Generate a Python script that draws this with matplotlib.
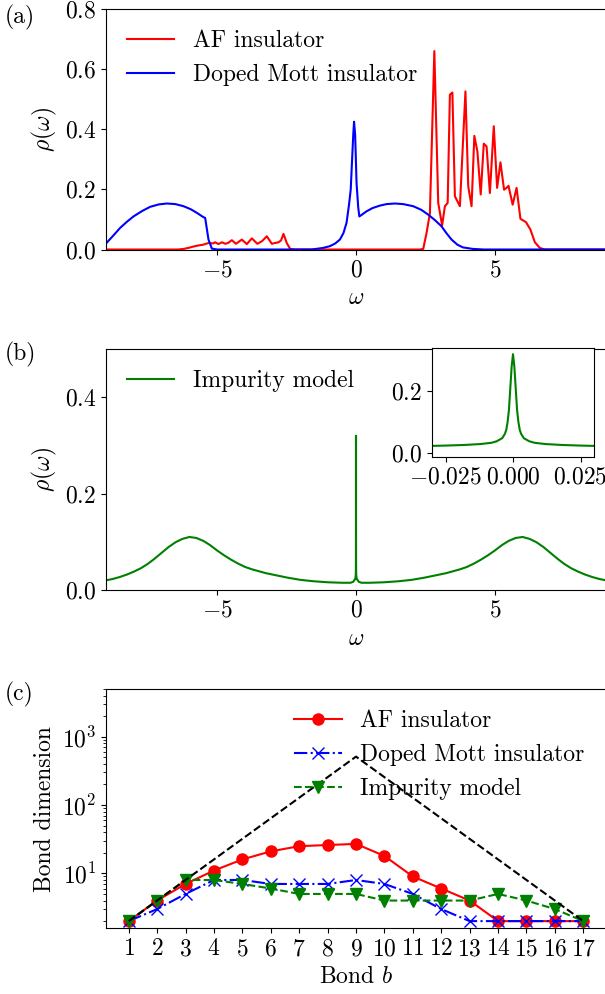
import numpy as np
import matplotlib
matplotlib.use("Agg")
import matplotlib.pyplot as plt

plt.rcParams["font.family"] = "serif"
plt.rcParams["font.serif"] = ["cmr10"]
plt.rcParams["mathtext.fontset"] = "cm"
plt.rcParams["axes.formatter.use_mathtext"] = True
plt.rcParams["font.size"] = 17

# (a) spectral functions, (omega, rho)
af_pts = [(-9.0, 0.0), (-6.4, 0.0), (-6.2, 0.002), (-6.0, 0.006), (-5.85, 0.01), (-5.7, 0.013),
          (-5.5, 0.016), (-5.3, 0.022), (-5.15, 0.02), (-5.07, 0.024), (-4.95, 0.018), (-4.83, 0.024),
          (-4.7, 0.019), (-4.6, 0.022), (-4.47, 0.031), (-4.32, 0.019), (-4.11, 0.033), (-3.93, 0.018),
          (-3.75, 0.037), (-3.55, 0.019), (-3.38, 0.028), (-3.21, 0.044), (-3.03, 0.019), (-2.9, 0.022),
          (-2.79, 0.024), (-2.7, 0.03), (-2.61, 0.052), (-2.49, 0.021), (-2.37, 0.002), (-2.2, 0.0),
          (2.3, 0.0), (2.42, 0.002), (2.54, 0.055), (2.66, 0.12), (2.82, 0.66), (2.96, 0.155),
          (3.10, 0.08), (3.20, 0.144), (3.30, 0.155), (3.38, 0.515), (3.47, 0.522), (3.56, 0.177),
          (3.74, 0.144), (3.94, 0.526), (4.04, 0.21), (4.16, 0.144), (4.26, 0.378), (4.37, 0.326),
          (4.49, 0.183), (4.60, 0.352), (4.70, 0.343), (4.82, 0.188), (4.96, 0.41), (5.08, 0.205),
          (5.20, 0.29), (5.33, 0.199), (5.42, 0.205), (5.49, 0.212), (5.64, 0.149), (5.78, 0.205),
          (5.92, 0.102), (6.12, 0.091), (6.28, 0.066), (6.44, 0.024), (6.62, 0.005), (6.8, 0.0),
          (9.0, 0.0)]

mott_pts = [(-9.0, 0.02), (-8.75, 0.045), (-8.49, 0.072), (-8.25, 0.092), (-8.01, 0.11), (-7.7, 0.128),
            (-7.41, 0.142), (-7.1, 0.15), (-6.81, 0.153), (-6.5, 0.151), (-6.21, 0.144), (-5.95, 0.134),
            (-5.73, 0.122), (-5.5, 0.108), (-5.43, 0.105), (-5.31, 0.033), (-5.19, 0.003), (-5.0, 0.0),
            (-1.6, 0.0), (-1.2, 0.005), (-0.94, 0.011), (-0.75, 0.02), (-0.58, 0.033), (-0.45, 0.055),
            (-0.34, 0.089), (-0.25, 0.15), (-0.19, 0.2), (-0.14, 0.3), (-0.1, 0.38), (-0.07, 0.425),
            (-0.03, 0.38), (0.02, 0.22), (0.08, 0.14), (0.12, 0.11), (0.2, 0.115), (0.38, 0.127),
            (0.6, 0.138), (0.86, 0.146), (1.1, 0.151), (1.4, 0.153), (1.7, 0.151), (2.06, 0.144),
            (2.35, 0.132), (2.6, 0.116), (2.85, 0.097), (3.08, 0.077), (3.25, 0.055), (3.44, 0.033),
            (3.65, 0.016), (3.85, 0.007), (4.2, 0.002), (4.6, 0.0), (9.0, 0.0)]

# (b) impurity model
imp_pts = [(-9.0, 0.020), (-8.75, 0.023), (-8.5, 0.027), (-8.25, 0.032), (-8.0, 0.038), (-7.75, 0.045),
           (-7.5, 0.054), (-7.25, 0.065), (-7.0, 0.077), (-6.75, 0.089), (-6.5, 0.099), (-6.25, 0.106),
           (-6.0, 0.110), (-5.75, 0.108), (-5.5, 0.102), (-5.25, 0.093), (-5.0, 0.082), (-4.75, 0.072),
           (-4.5, 0.063), (-4.25, 0.055), (-4.0, 0.048), (-3.75, 0.043), (-3.5, 0.039), (-3.25, 0.035),
           (-3.0, 0.032), (-2.5, 0.026), (-2.0, 0.021), (-1.5, 0.018), (-1.0, 0.016), (-0.5, 0.015),
           (-0.2, 0.015), (-0.1, 0.017), (-0.03, 0.023), (-0.025, 0.024), (-0.018, 0.026),
           (-0.012, 0.029), (-0.008, 0.033), (-0.006, 0.038), (-0.004, 0.048), (-0.003, 0.062),
           (-0.0025, 0.075), (-0.002, 0.10), (-0.0015, 0.14), (-0.001, 0.21), (-0.0005, 0.28),
           (0.0, 0.32),
           (0.0005, 0.28), (0.001, 0.21), (0.0015, 0.14), (0.002, 0.10), (0.0025, 0.075),
           (0.003, 0.062), (0.004, 0.048), (0.006, 0.038), (0.008, 0.033), (0.012, 0.029),
           (0.018, 0.026), (0.025, 0.024), (0.03, 0.023), (0.1, 0.017), (0.2, 0.015), (0.5, 0.015),
           (1.0, 0.016), (1.5, 0.018), (2.0, 0.021), (2.5, 0.026), (3.0, 0.032), (3.25, 0.035),
           (3.5, 0.039), (3.75, 0.043), (4.0, 0.048), (4.25, 0.055), (4.5, 0.063), (4.75, 0.072),
           (5.0, 0.082), (5.25, 0.093), (5.5, 0.102), (5.75, 0.108), (6.0, 0.110), (6.25, 0.106),
           (6.5, 0.099), (6.75, 0.089), (7.0, 0.077), (7.25, 0.065), (7.5, 0.054), (7.75, 0.045),
           (8.0, 0.038), (8.25, 0.032), (8.5, 0.027), (8.75, 0.023), (9.0, 0.020)]

# (c) bond dimensions
bonds = list(range(1, 18))
bd_af = [2, 4, 7, 11, 16, 21, 25, 26, 27, 18, 9, 6, 4, 2, 2, 2, 2]
bd_mott = [2, 3, 5, 8, 8, 7, 7, 7, 8, 7, 5, 3, 2, 2, 2, 2, 2]
bd_imp = [2, 4, 8, 8, 7, 6, 5, 5, 5, 4, 4, 4, 4, 5, 4, 3, 2]
bd_max = [2, 4, 8, 16, 32, 64, 128, 256, 512, 256, 128, 64, 32, 16, 8, 4, 2]

W, H = 605, 994
fig = plt.figure(figsize=(W / 100, H / 100), dpi=100)


def box(x0, y0, x1, y1):
    # pixel box (top-left origin) -> figure fraction
    return [x0 / W, 1 - y1 / H, (x1 - x0) / W, (y1 - y0) / H]


# ---- (a)
ax1 = fig.add_axes(box(106, 9, 606, 249.5))
w, r = zip(*af_pts)
ax1.plot(w, r, color="red", lw=1.5, label="AF insulator")
w, r = zip(*mott_pts)
ax1.plot(w, r, color="blue", lw=1.5, label="Doped Mott insulator")
ax1.set_xlim(-9, 9)
ax1.set_ylim(0, 0.8)
ax1.set_xticks([-5, 0, 5])
ax1.set_yticks([0, 0.2, 0.4, 0.6, 0.8])
ax1.set_xlabel(r"$\omega$")
ax1.set_ylabel(r"$\rho(\omega)$")
ax1.legend(loc="upper left", frameon=False)

# ---- (b)
ax2 = fig.add_axes(box(106, 349, 606, 590))
w, r = zip(*imp_pts)
ax2.plot(w, r, color="green", lw=1.5, label="Impurity model")
ax2.set_xlim(-9, 9)
ax2.set_ylim(0, 0.5)
ax2.set_xticks([-5, 0, 5])
ax2.set_yticks([0, 0.2, 0.4])
ax2.set_xlabel(r"$\omega$")
ax2.set_ylabel(r"$\rho(\omega)$")
ax2.legend(loc="upper left", frameon=False)

axin = fig.add_axes(box(432, 348, 594, 457))
axin.plot(w, r, color="green", lw=1.5)
axin.set_xlim(-0.03, 0.03)
axin.set_ylim(-0.013, 0.34)
axin.set_xticks([-0.025, 0, 0.025])
axin.set_yticks([0, 0.2])

# ---- (c)
ax3 = fig.add_axes(box(106, 689, 606, 928.3))
ax3.plot(bonds, bd_af, "o-", color="red", ms=8, lw=1.5, label="AF insulator")
ax3.plot(bonds, bd_mott, "x-.", color="blue", ms=8, lw=1.5, label="Doped Mott insulator")
ax3.plot(bonds, bd_imp, "v--", color="green", ms=8, lw=1.5, label="Impurity model")
ax3.plot(bonds, bd_max, "k--", lw=1.5)
ax3.set_yscale("log")
ax3.set_ylim(1.57, 5000)
ax3.set_xticks(bonds)
ax3.set_xlabel(r"Bond $b$")
ax3.set_ylabel("Bond dimension")
ax3.legend(loc="upper right", frameon=False)

fig.text(5 / W, 1 - 17 / H, "(a)", va="center")
fig.text(5 / W, 1 - 354 / H, "(b)", va="center")
fig.text(5 / W, 1 - 694 / H, "(c)", va="center")

plt.savefig("out.png", dpi=100)
